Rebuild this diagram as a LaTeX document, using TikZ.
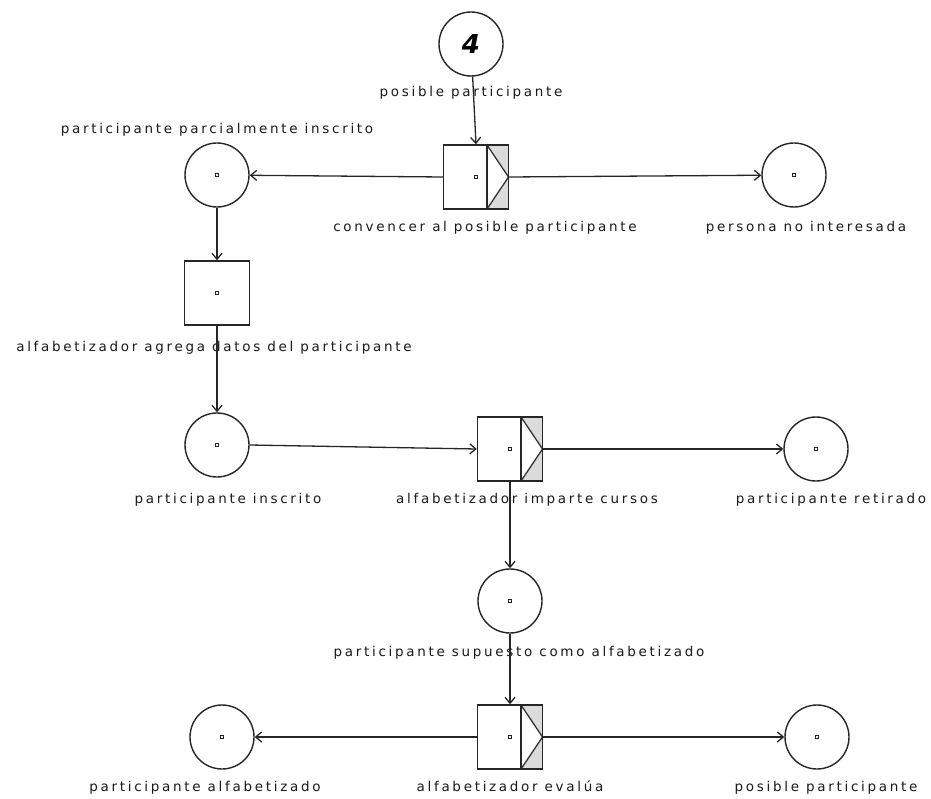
\documentclass[tikz,border=0pt]{standalone}
\usepackage{fontspec}
\usetikzlibrary{arrows.meta}
\newfontfamily\lblfont[LetterSpace=20]{DejaVu Sans}
\newfontfamily\tokfont{DejaVu Sans}
\begin{document}
\begin{tikzpicture}[x=1pt,y=-1pt,
  netline/.style={line width=1.4pt, draw=black!85},
  dotmark/.style={path picture={
    \draw[line width=0.8pt] ([shift={(-1.8pt,-1.8pt)}]path picture bounding box.center) rectangle ++(3.6pt,3.6pt);}},
  place/.style={circle, netline, fill=white, minimum size=64pt, inner sep=0pt},
  trans/.style={rectangle, netline, fill=white, minimum width=65pt, minimum height=64pt, inner sep=0pt},
  trigger/.style={path picture={
    \fill[black!14] ([xshift=-21.5pt]path picture bounding box.north east)
      -- (path picture bounding box.north east)
      -- (path picture bounding box.south east)
      -- ([xshift=-21.5pt]path picture bounding box.south east)
      -- (path picture bounding box.east) -- cycle;
    \draw[line width=1.4pt, black!85] ([xshift=-21.5pt]path picture bounding box.north east)
      -- ([xshift=-21.5pt]path picture bounding box.south east);
    \draw[line width=1.3pt, black!80] ([xshift=-21.5pt]path picture bounding box.north east)
      -- (path picture bounding box.east)
      -- ([xshift=-21.5pt]path picture bounding box.south east);
    \draw[line width=0.8pt] ([shift={(-1.8pt,-1.8pt)}]path picture bounding box.center) rectangle ++(3.6pt,3.6pt);}},
  lbl/.style={font=\lblfont\fontsize{13.5}{15}\selectfont, inner sep=0pt, text height=10pt, text depth=3pt, text=black!90},
  arc/.style={line width=1.3pt, draw=black!85, -{Straight Barb[length=6pt,width=10pt,line width=1.3pt]}}
]
\useasboundingbox (0,0) rectangle (931,799);

% places
\node[place] (p0) at (471,44) {\tokfont\fontsize{26}{26}\selectfont\itshape\bfseries 4};
\node[place, dotmark] (p1) at (217,175) {};
\node[place, dotmark] (p2) at (794,175) {};
\node[place, dotmark] (p3) at (217,445) {};
\node[place, dotmark] (p4) at (816,449) {};
\node[place, dotmark] (p5) at (510,601) {};
\node[place, dotmark] (p6) at (222,737) {};
\node[place, dotmark] (p7) at (817,737) {};

% transitions
\node[trans, trigger] (t1) at (476,177) {};
\node[trans, dotmark] (t2) at (217,293) {};
\node[trans, trigger] (t3) at (510,449) {};
\node[trans, trigger] (t4) at (510,737) {};

% labels
\node[lbl] (l0) at (471,93) {posible participante};
\node[lbl] (l1) at (217,130) {participante parcialmente inscrito};
\node[lbl] (l2) at (485,228) {convencer al posible participante};
\node[lbl] (l3) at (806,228) {persona no interesada};
\node[lbl] (l4) at (214,348) {alfabetizador agrega datos del participante};
\node[lbl] (l5) at (228,500) {participante inscrito};
\node[lbl] (l6) at (527,500) {alfabetizador imparte cursos};
\node[lbl] (l7) at (831,500) {participante retirado};
\node[lbl] (l8) at (519,653) {participante supuesto como alfabetizado};
\node[lbl] (l9) at (205,788) {participante alfabetizado};
\node[lbl] (l10) at (510,788) {alfabetizador evalúa};
\node[lbl] (l11) at (826,788) {posible participante};

% arcs
\draw[arc] (p0) -- (t1.north);
\draw[arc] (t1.west) -- (p1);
\draw[arc] (t1.east) -- (p2);
\draw[arc] (p1) -- (t2);
\draw[arc] (t2) -- (p3);
\draw[arc] (p3.east) -- (t3.west);
\draw[arc] (t3.east) -- (p4);
\draw[arc] (t3) -- (p5);
\draw[arc] (p5) -- (t4);
\draw[arc] (t4.west) -- (p6);
\draw[arc] (t4.east) -- (p7);
\end{tikzpicture}
\end{document}
